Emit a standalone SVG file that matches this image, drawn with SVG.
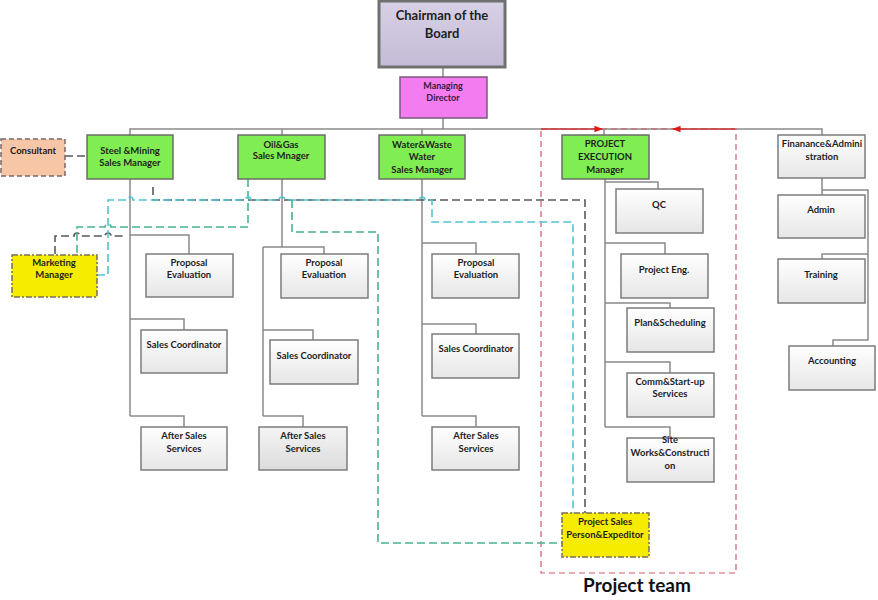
<svg xmlns="http://www.w3.org/2000/svg" width="878" height="600" viewBox="0 0 878 600">
<defs>
<linearGradient id="gGrey" x1="0" y1="0" x2="0" y2="1"><stop offset="0" stop-color="#ffffff"/><stop offset="1" stop-color="#e6e6e6"/></linearGradient>
<linearGradient id="gGrey2" x1="0" y1="0" x2="0" y2="1"><stop offset="0" stop-color="#f4f4f4"/><stop offset="1" stop-color="#dcdcdc"/></linearGradient>
<linearGradient id="gChair" x1="0" y1="0" x2="0" y2="1"><stop offset="0" stop-color="#d8d0e6"/><stop offset="1" stop-color="#c4bcd6"/></linearGradient>
<marker id="arR" viewBox="0 0 10 10" refX="9" refY="5" markerWidth="7" markerHeight="7" orient="auto"><path d="M0,1 L10,5 L0,9 z" fill="#e01818"/></marker>
</defs>
<style>
.t{font-family:Lato,"Open Sans","Liberation Sans",sans-serif;font-weight:bold;font-size:9.5px;fill:#1e1e1e;text-anchor:middle}
.box{fill:url(#gGrey);stroke:#7c7c7c;stroke-width:1.5}
.green{fill:#80ee52;stroke:#6b6b6b;stroke-width:1.5}
.ln{fill:none;stroke:#8a8a8a;stroke-width:1.5}
.dg{fill:none;stroke:#5a5a5a;stroke-width:1.6;stroke-dasharray:8 4}
.cy{fill:none;stroke:#52c4d2;stroke-width:1.6;stroke-dasharray:8 4}
.gt{fill:none;stroke:#45b48e;stroke-width:1.6;stroke-dasharray:8 4}
.rd{fill:none;stroke:#d45a6a;stroke-width:1.2;stroke-dasharray:6 4}
</style>
<rect width="878" height="600" fill="#ffffff"/>

<g id="connectors">
<path class="ln" d="M443,67 V77 M443,118 V129 M130,135 V129 H822 V135 M282,129 V135 M422,129 V135 M604,129 V135"/>
<path class="ln" d="M130,179 V416 M130,235 H189 V254 M130,319 H184 V330 M130,416 H184 V427"/>
<path class="ln" d="M282,179 V247 M263,247 H324 V254 M263,247 V416 M263,330 H313 V340 M263,416 H303 V427"/>
<path class="ln" d="M422,179 V416 M422,243 H476 V254 M422,324 H476 V334 M422,416 H476 V427"/>
<path class="ln" d="M605,179 V427 M605,182 H658 V189 M605,243 H665 V254 M605,303 H670 V308 M605,362 H670 V373 M605,427 H670 V438"/>
<path class="ln" d="M822,178 V195 M822,190 H868 V340 H833 V346 M868,254 H822 V259"/>
<rect class="rd" x="541" y="129" width="195" height="444"/>
<path d="M541,129 H602" fill="none" stroke="#e01818" stroke-width="1.2" marker-end="url(#arR)"/>
<path d="M735,129 H673" fill="none" stroke="#e01818" stroke-width="1.2" marker-end="url(#arR)"/>
<path class="dg" d="M65,156 H87"/>
<path class="dg" d="M55,254 V236 H74 A3,3 0 0 1 80,236 H105 A3,3 0 0 1 111,236 H126"/>
<path class="dg" d="M153,187 V200 H585 V513"/>
<path class="gt" d="M248,179 V227 H111 A3,3 0 0 0 105,227 H77 V254"/>
<path class="cy" d="M97,275 H108 V200 H127 A3,3 0 0 1 133,200 H245 A3,3 0 0 1 251,200 H279 A3,3 0 0 1 285,200 H419 A3,3 0 0 1 425,200 H432 V222 H573 V513"/>
<path class="gt" d="M292,200 V232 H378 V543 H562"/>
</g>

<g id="chairman">
<rect x="379" y="1" width="126" height="66" fill="url(#gChair)" stroke="#707070" stroke-width="3"/>
<text class="t" x="442" y="20" style="font-size:13px">Chairman of the</text>
<text class="t" x="442" y="38" style="font-size:13px">Board</text>
</g>
<g id="managing-director">
<rect x="400" y="77" width="87" height="41" fill="#f27cf0" stroke="#7a5a7a" stroke-width="1.5"/>
<text class="t" x="443" y="89" style="font-size:9px;fill:#3a1a40">Managing</text>
<text class="t" x="443" y="101" style="font-size:9px;fill:#3a1a40">Director</text>
</g>
<g id="consultant">
<rect x="1" y="139" width="64" height="37" fill="#f6c6a6" stroke="#7a6a66" stroke-width="1.5" stroke-dasharray="5 3"/>
<text class="t" x="33" y="154">Consultant</text>
</g>
<g id="steel-mining">
<rect class="green" x="87" y="135" width="86" height="44"/>
<text class="t" x="130" y="154">Steel &amp;Mining</text>
<text class="t" x="130" y="166">Sales Manager</text>
</g>
<g id="oil-gas">
<rect class="green" x="238" y="135" width="87" height="44"/>
<text class="t" x="281" y="148">Oil&amp;Gas</text>
<text class="t" x="281" y="159">Sales Mnager</text>
</g>
<g id="water">
<rect class="green" x="379" y="135" width="86" height="44"/>
<text class="t" x="422" y="148">Water&amp;Waste</text>
<text class="t" x="422" y="160">Water</text>
<text class="t" x="422" y="173">Sales Manager</text>
</g>
<g id="project-execution">
<rect class="green" x="562" y="135" width="87" height="44"/>
<text class="t" x="605" y="147">PROJECT</text>
<text class="t" x="605" y="160">EXECUTION</text>
<text class="t" x="605" y="173">Manager</text>
</g>
<g id="finance">
<rect class="box" x="778" y="135" width="87" height="43"/>
<text class="t" x="822" y="147">Finanance&amp;Admini</text>
<text class="t" x="822" y="160">stration</text>
</g>
<g id="marketing">
<rect x="12" y="255" width="85" height="42" fill="#f6ec00" stroke="#7a6e58" stroke-width="1.5" stroke-dasharray="6 2 2 2"/>
<text class="t" x="54" y="266">Marketing</text>
<text class="t" x="54" y="278">Manager</text>
</g>

<g id="steel-proposal"><rect class="box" x="146" y="254" width="87" height="43"/><text class="t" x="189" y="266">Proposal</text><text class="t" x="189" y="278">Evaluation</text></g>
<g id="steel-coordinator"><rect class="box" x="141" y="330" width="86" height="43"/><text class="t" x="184" y="348">Sales Coordinator</text></g>
<g id="steel-after-sales"><rect class="box" x="141" y="427" width="86" height="43"/><text class="t" x="184" y="439">After Sales</text><text class="t" x="184" y="452">Services</text></g>

<g id="oil-proposal"><rect class="box" x="281" y="254" width="87" height="44"/><text class="t" x="324" y="266">Proposal</text><text class="t" x="324" y="278">Evaluation</text></g>
<g id="oil-coordinator"><rect class="box" x="270" y="340" width="88" height="44"/><text class="t" x="314" y="359">Sales Coordinator</text></g>
<g id="oil-after-sales"><rect x="259" y="427" width="88" height="43" fill="url(#gGrey2)" stroke="#7c7c7c" stroke-width="1.5"/><text class="t" x="303" y="439">After Sales</text><text class="t" x="303" y="452">Services</text></g>

<g id="water-proposal"><rect class="box" x="432" y="254" width="87" height="44"/><text class="t" x="476" y="266">Proposal</text><text class="t" x="476" y="278">Evaluation</text></g>
<g id="water-coordinator"><rect class="box" x="432" y="334" width="87" height="44"/><text class="t" x="476" y="352">Sales Coordinator</text></g>
<g id="water-after-sales"><rect class="box" x="432" y="427" width="87" height="43"/><text class="t" x="476" y="439">After Sales</text><text class="t" x="476" y="452">Services</text></g>

<g id="qc"><rect class="box" x="616" y="189" width="87" height="44"/><text class="t" x="659" y="208">QC</text></g>
<g id="project-eng"><rect class="box" x="621" y="254" width="87" height="44"/><text class="t" x="664" y="273">Project Eng.</text></g>
<g id="plan-scheduling"><rect class="box" x="627" y="308" width="87" height="44"/><text class="t" x="670" y="326">Plan&amp;Scheduling</text></g>
<g id="comm-startup"><rect class="box" x="627" y="373" width="87" height="44"/><text class="t" x="670" y="385">Comm&amp;Start-up</text><text class="t" x="670" y="397">Services</text></g>
<g id="site-works"><rect class="box" x="627" y="438" width="87" height="44"/><text class="t" x="670" y="443">Site</text><text class="t" x="670" y="456">Works&amp;Constructi</text><text class="t" x="670" y="469">on</text></g>

<g id="admin"><rect class="box" x="778" y="195" width="87" height="43"/><text class="t" x="821" y="213">Admin</text></g>
<g id="training"><rect class="box" x="778" y="259" width="87" height="44"/><text class="t" x="821" y="278">Training</text></g>
<g id="accounting"><rect class="box" x="789" y="346" width="86" height="44"/><text class="t" x="832" y="364">Accounting</text></g>

<g id="project-sales">
<rect x="562" y="513" width="87" height="44" fill="#f6ec00" stroke="#7a6e58" stroke-width="1.5" stroke-dasharray="6 2 2 2"/>
<text class="t" x="605" y="525">Project Sales</text>
<text class="t" x="605" y="538">Person&amp;Expeditor</text>
</g>
<g id="project-team-label">
<text class="t" x="637" y="592" style="font-size:19px;fill:#111">Project team</text>
</g>
</svg>
